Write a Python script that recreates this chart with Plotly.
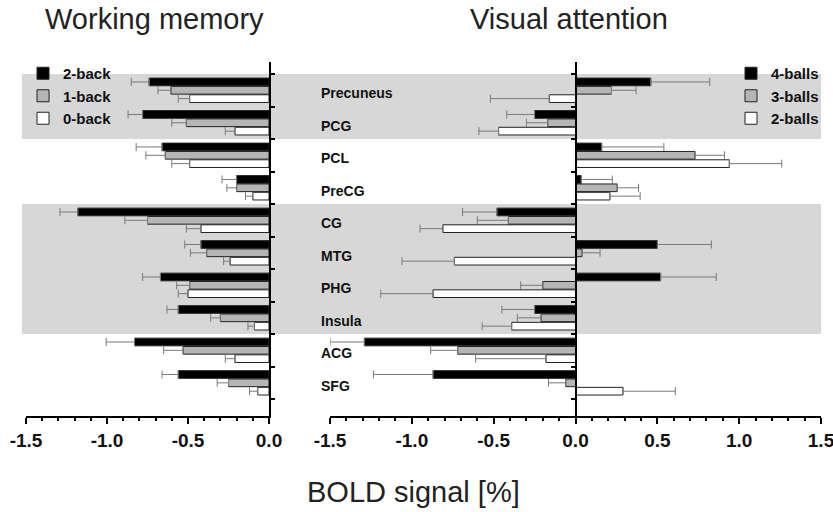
import plotly.graph_objects as go

regions = ["Precuneus", "PCG", "PCL", "PreCG", "CG", "MTG", "PHG", "Insula", "ACG", "SFG"]

# Working memory (BOLD signal %)
wm_2back = [-0.74, -0.78, -0.66, -0.20, -1.18, -0.42, -0.67, -0.56, -0.83, -0.56]
wm_2back_err = [0.11, 0.09, 0.16, 0.09, 0.11, 0.10, 0.11, 0.07, 0.175, 0.10]
wm_1back = [-0.605, -0.51, -0.64, -0.20, -0.75, -0.385, -0.49, -0.30, -0.53, -0.25]
wm_1back_err = [0.08, 0.09, 0.12, 0.06, 0.14, 0.10, 0.08, 0.06, 0.12, 0.07]
wm_0back = [-0.49, -0.21, -0.49, -0.10, -0.42, -0.24, -0.50, -0.09, -0.21, -0.07]
wm_0back_err = [0.07, 0.06, 0.11, 0.045, 0.09, 0.04, 0.06, 0.04, 0.06, 0.05]

# Visual attention (BOLD signal %)
va_4balls = [0.46, -0.25, 0.16, 0.035, -0.48, 0.50, 0.52, -0.25, -1.29, -0.87]
va_4balls_err = [0.36, 0.17, 0.38, 0.19, 0.21, 0.33, 0.34, 0.20, 0.21, 0.365]
va_3balls = [0.22, -0.17, 0.73, 0.255, -0.41, 0.04, -0.20, -0.21, -0.72, -0.06]
va_3balls_err = [0.15, 0.13, 0.18, 0.13, 0.19, 0.11, 0.135, 0.145, 0.165, 0.105]
va_2balls = [-0.16, -0.47, 0.94, 0.21, -0.81, -0.74, -0.87, -0.39, -0.18, 0.29]
va_2balls_err = [0.36, 0.12, 0.32, 0.185, 0.14, 0.32, 0.32, 0.18, 0.43, 0.32]

wm_ticks = [-1.5, -1.0, -0.5, 0.0]
va_ticks = [-1.5, -1.0, -0.5, 0.0, 0.5, 1.0, 1.5]

shaded_bands = [("Precuneus", "PCG"), ("CG", "Insula")]

FONT = "Liberation Sans, Arial, sans-serif"
fill_colors = ["#000000", "#b5b5b5", "#ffffff"]

ypos = list(range(len(regions)))


def bar(name, vals, errs, color, xa, ya, legend):
    plus = [e if v > 0 else 0 for v, e in zip(vals, errs)]
    minus = [e if v < 0 else 0 for v, e in zip(vals, errs)]
    return go.Bar(
        name=name, x=vals, y=ypos, orientation="h",
        xaxis=xa, yaxis=ya, legend=legend,
        marker=dict(color=color, line=dict(color="#222222", width=1)),
        error_x=dict(type="data", symmetric=False, array=plus, arrayminus=minus,
                     color="#7a7a7a", thickness=1, width=4),
    )


fig = go.Figure()
for name, v, e, c in zip(["2-back", "1-back", "0-back"],
                         [wm_2back, wm_1back, wm_0back],
                         [wm_2back_err, wm_1back_err, wm_0back_err], fill_colors):
    fig.add_trace(bar(name, v, e, c, "x", "y", "legend"))
for name, v, e, c in zip(["4-balls", "3-balls", "2-balls"],
                         [va_4balls, va_3balls, va_2balls],
                         [va_4balls_err, va_3balls_err, va_2balls_err], fill_colors):
    fig.add_trace(bar(name, v, e, c, "x2", "y2", "legend2"))

# geometry (view pixels; the page body margin is removed below)
W, H = 833, 512
left_px, right_px, top_px, bottom_px = 26, 821, 62, 416
ml, mr = left_px, W - right_px
mt, mb = top_px, H - bottom_px
pw = W - ml - mr
ph = H - mt - mb
left_dom = [0, (269 - left_px) / pw]
right_dom = [(330 - left_px) / pw, 1.0]
yrange = [10.02, -0.87]
boundaries = [i - 0.5 for i in range(len(regions) + 1)]
zero_pos = (right_dom[0] + right_dom[1]) / 2


def px_x(p):
    return (p - left_px) / pw


def px_y(p):
    return (bottom_px - p) / ph


xcommon = dict(showline=True, linecolor="black", linewidth=2, ticks="outside",
               ticklen=6, tickwidth=2, tickcolor="black", showgrid=False, zeroline=False,
               ticklabeloverflow="allow",
               tickfont=dict(family=FONT, size=19, color="#111", weight="bold"),
               minor=dict(dtick=0.1, tick0=0, ticks="outside", ticklen=3, tickwidth=1.5,
                          tickcolor="black", showgrid=False))
ycommon = dict(range=yrange, showgrid=False, zeroline=False, showticklabels=False,
               tickvals=boundaries, ticklen=4, tickwidth=1.5, tickcolor="black")

fig.update_layout(
    width=W, height=H,
    margin=dict(l=ml, r=mr, t=mt, b=mb, autoexpand=False),
    paper_bgcolor="white", plot_bgcolor="rgba(0,0,0,0)",
    barmode="group", bargap=0.23, bargroupgap=0.08,
    font=dict(family=FONT, color="#111"),
    xaxis=dict(domain=left_dom, range=[-1.5, 0], anchor="y", tickvals=wm_ticks,
               ticktext=[f"{t:.1f}" for t in wm_ticks], **xcommon),
    xaxis2=dict(domain=right_dom, range=[-1.5, 1.5], anchor="y2", tickvals=va_ticks,
                ticktext=[f"{t:.1f}" for t in va_ticks], **xcommon),
    yaxis=dict(anchor="x", side="right", showline=True, linecolor="black", linewidth=1.5,
               ticks="outside", **ycommon),
    yaxis3=dict(anchor="x", side="right", overlaying="y", showline=False,
                ticks="inside", **ycommon),
    yaxis2=dict(anchor="free", position=zero_pos, side="left", showline=True,
                linecolor="black", linewidth=1.5, ticks="outside", **ycommon),
    yaxis4=dict(anchor="free", position=zero_pos, side="right", overlaying="y2",
                showline=False, ticks="outside", **ycommon),
    legend=dict(x=px_x(23), y=px_y(57), xanchor="left", yanchor="top",
                bgcolor="rgba(0,0,0,0)",
                font=dict(family=FONT, size=15, color="#111", weight="bold"),
                tracegroupgap=0, traceorder="normal"),
    legend2=dict(x=px_x(731), y=px_y(57), xanchor="left", yanchor="top",
                 bgcolor="rgba(0,0,0,0)",
                 font=dict(family=FONT, size=15, color="#111", weight="bold"),
                 tracegroupgap=0, traceorder="normal"),
    showlegend=True,
)

# shaded bands
for a, b in shaded_bands:
    fig.add_shape(type="rect", xref="paper", yref="y", x0=px_x(22), x1=px_x(821),
                  y0=regions.index(a) - 0.5, y1=regions.index(b) + 0.5,
                  fillcolor="#d7d7d7", line=dict(width=0), layer="below")

# region labels
for i, r in enumerate(regions):
    fig.add_annotation(text=r, xref="x2", yref="y2", x=-1.5, y=i, xanchor="left",
                       xshift=-11, yshift=-3, showarrow=False,
                       font=dict(family=FONT, size=14, color="#111", weight="bold"))

# titles
for txt, xp, yp, anchor in [("Working memory", 154, 1, "top"),
                            ("Visual attention", 568.5, 1, "top"),
                            ("BOLD signal [%]", 413.5, 492, "middle")]:
    fig.add_annotation(text=txt, xref="paper", yref="paper", x=px_x(xp), y=px_y(yp),
                       xanchor="center", yanchor=anchor, showarrow=False,
                       font=dict(family=FONT, size=29, color="#222"))

fig.write_html("out.html",
               config={"displayModeBar": False},
               post_script="document.body.style.margin='0';")
